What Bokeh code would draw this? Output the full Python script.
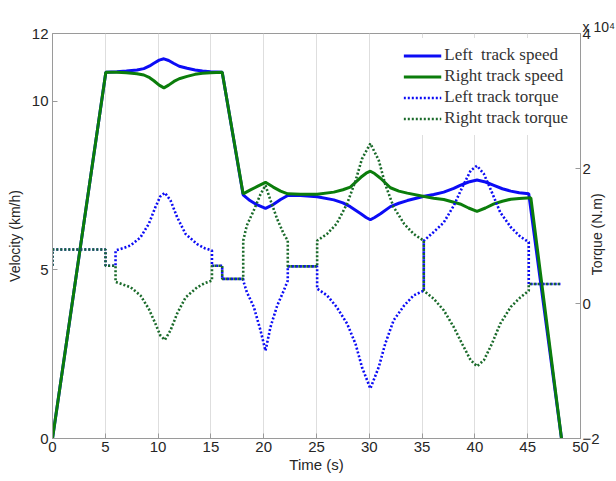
import math
from bokeh.plotting import figure
from bokeh.models import Range1d, LinearAxis, FixedTicker, Title
from bokeh.embed import file_html
from bokeh.resources import INLINE

# ---- data (time in s, velocity in km/h, torque in 1e4 N.m) ----
speed_left_t = [0, 5.05, 6.1, 7.0, 8.0, 8.65, 9.2, 9.6, 10.1, 10.55, 11.0, 11.5, 12.0, 12.75,
                13.5, 14.2, 14.96, 16.07, 18.05, 18.7, 19.4, 20.17, 20.9, 21.6, 22.28, 23.5,
                25.06, 26.64, 27.5, 28.2, 29.2, 29.7, 30.1, 30.5, 31.06, 32.0, 32.8, 33.6,
                35.2, 36.1, 37.05, 38.0, 38.6, 39.4, 40.2, 41.0, 41.8, 42.6, 43.4, 44.2, 45.1, 48.2]
speed_left_v = [0, 10.85, 10.87, 10.89, 10.92, 10.96, 11.04, 11.12, 11.21, 11.25, 11.2, 11.11, 11.03, 10.97,
                10.92, 10.89, 10.87, 10.85, 7.22, 7.05, 6.92, 6.82, 6.93, 7.08, 7.2, 7.2,
                7.16, 7.07, 6.98, 6.87, 6.66, 6.55, 6.48, 6.55, 6.66, 6.87, 6.97, 7.05,
                7.18, 7.23, 7.3, 7.41, 7.5, 7.6, 7.66, 7.6, 7.5, 7.4, 7.33, 7.28, 7.25, 0]

speed_right_t = [0, 5.05, 6.1, 7.0, 8.0, 8.65, 9.2, 9.6, 10.1, 10.55, 11.0, 11.5, 12.0, 12.75,
                 13.5, 14.2, 14.96, 16.07, 18.05, 18.7, 19.4, 20.17, 20.9, 21.6, 22.28, 23.5,
                 25.06, 26.64, 27.5, 28.2, 29.2, 29.7, 30.1, 30.5, 31.06, 32.0, 32.8, 33.6,
                 35.2, 36.1, 37.05, 38.0, 38.6, 39.4, 40.2, 41.0, 41.8, 42.6, 43.4, 44.2, 45.3, 48.2]
speed_right_v = [0, 10.85, 10.85, 10.84, 10.81, 10.77, 10.69, 10.6, 10.47, 10.39, 10.47, 10.58, 10.66, 10.73,
                 10.79, 10.82, 10.84, 10.85, 7.25, 7.36, 7.47, 7.59, 7.45, 7.33, 7.25, 7.24,
                 7.24, 7.3, 7.37, 7.45, 7.74, 7.86, 7.92, 7.85, 7.71, 7.43, 7.33, 7.27,
                 7.17, 7.12, 7.08, 7.0, 6.95, 6.83, 6.73, 6.83, 6.95, 7.03, 7.09, 7.11, 7.13, 0]

torque_t = [0, 0, 5.02, 5.02, 5.97, 5.97, 6.7, 7.39, 8.33, 9.12, 9.75, 10.2, 10.64, 11.17, 11.8,
            12.6, 13.7, 14.4, 15.1, 15.1, 16.07, 16.07, 18.06, 18.06, 18.4, 19.06, 19.7, 20.17,
            20.64, 21.28, 21.9, 22.28, 22.28, 25.06, 25.06, 26.0, 26.9, 27.9, 28.7, 29.3, 30.1,
            30.9, 31.5, 32.3, 33.3, 34.2, 35.16, 35.16, 36.1, 37.05, 38.0, 38.8, 39.6, 40.2,
            40.85, 41.6, 42.4, 43.4, 44.3, 45.1, 45.1, 48.1]
torque_left = [0.56, 0.8, 0.8, 0.56, 0.56, 0.785, 0.82, 0.86, 0.98, 1.18, 1.43, 1.585, 1.64, 1.53, 1.28,
               1.03, 0.88, 0.82, 0.785, 0.56, 0.56, 0.365, 0.365, 0.34, 0.17, -0.05, -0.40, -0.70,
               -0.35, -0.03, 0.19, 0.34, 0.55, 0.55, 0.22, 0.12, -0.05, -0.30, -0.60, -0.94, -1.26,
               -0.94, -0.60, -0.25, -0.03, 0.12, 0.19, 0.93, 1.06, 1.2, 1.45, 1.72, 1.97, 2.04,
               1.92, 1.65, 1.35, 1.13, 0.99, 0.91, 0.29, 0.29]
torque_right = [0.56, 0.8, 0.8, 0.56, 0.56, 0.32, 0.28, 0.24, 0.12, -0.08, -0.30, -0.47, -0.54, -0.40, -0.15,
                0.09, 0.24, 0.3, 0.34, 0.56, 0.56, 0.365, 0.365, 0.93, 1.156, 1.38, 1.62, 1.75,
                1.53, 1.25, 1.03, 0.93, 0.55, 0.55, 0.93, 1.03, 1.18, 1.48, 1.82, 2.14, 2.37,
                2.12, 1.77, 1.43, 1.18, 1.03, 0.93, 0.19, 0.07, -0.10, -0.35, -0.60, -0.84, -0.93,
                -0.84, -0.6, -0.30, -0.05, 0.09, 0.19, 0.29, 0.29]

x_ticks = [0, 5, 10, 15, 20, 25, 30, 35, 40, 45, 50]
vel_ticks = [0, 5, 10, 12]
torque_ticks = [-2, 0, 2, 4]

BLUE = "#0c0cf5"
GREEN = "#0b7d0b"
GREEN_DOT = "#1a6a2a"
AXIS = "#9a9a9a"
TXT = "#262626"

p = figure(width=616, height=478, output_backend="svg", toolbar_location=None,
           x_range=Range1d(0, 50), y_range=Range1d(0, 12),
           min_border_left=52, min_border_right=36, min_border_top=33, min_border_bottom=40)
p.extra_y_ranges = {"torque": Range1d(-2, 4)}
p.background_fill_color = "white"
p.border_fill_color = "white"
p.outline_line_color = AXIS

right_axis = LinearAxis(y_range_name="torque")
p.add_layout(right_axis, "right")

xaxis = p.xaxis[0]
left_axis = p.yaxis[0]
xaxis.axis_label = "Time (s)"
left_axis.axis_label = "Velocity (km/h)"
xaxis.ticker = FixedTicker(ticks=x_ticks)
left_axis.ticker = FixedTicker(ticks=vel_ticks)
right_axis.ticker = FixedTicker(ticks=torque_ticks)

for ax in (xaxis, left_axis, right_axis):
    ax.major_tick_in = 5
    ax.major_tick_out = 0
    ax.minor_tick_in = 0
    ax.minor_tick_out = 0
    ax.axis_line_color = AXIS
    ax.major_tick_line_color = AXIS
    ax.major_label_text_font = "Liberation Sans"
    ax.major_label_text_font_size = "15px"
    ax.major_label_text_color = TXT
    ax.axis_label_text_font = "Liberation Sans"
    ax.axis_label_text_font_size = "14px"
    ax.axis_label_text_font_style = "normal"
    ax.axis_label_text_color = TXT
xaxis.axis_label_text_font_size = "15px"
xaxis.major_label_standoff = 3
xaxis.axis_label_standoff = 1
left_axis.major_label_standoff = 4
left_axis.axis_label_standoff = 6
right_axis.major_label_standoff = 2

# right-hand label, reading bottom-to-top like the left one
torque_text = "Torque (N.m)"
right_axis.axis_label_standoff = -6
try:
    right_axis.axis_label_orientation = math.pi / 2
    try:
        right_axis.axis_label_align = "start"
        right_axis.axis_label = "\u00a0" * 42 + torque_text
    except Exception:
        right_axis.axis_label = torque_text
except Exception:
    right_axis.axis_label = torque_text

p.xgrid.grid_line_color = "#dedede"
p.ygrid.grid_line_color = None

p.line(speed_left_t, speed_left_v, line_color=BLUE, line_width=3, legend_label="Left  track speed")
p.line(speed_right_t, speed_right_v, line_color=GREEN, line_width=3, legend_label="Right track speed")
p.line(torque_t, torque_left, y_range_name="torque", line_color=BLUE, line_width=2.6,
       line_dash="2 2", legend_label="Left track torque")
p.line(torque_t, torque_right, y_range_name="torque", line_color=GREEN_DOT, line_width=2.6,
       line_dash="2 2", legend_label="Right track torque")

lg = p.legend[0]
lg.location = "top_right"
lg.border_line_alpha = 0
lg.background_fill_color = "white"
lg.background_fill_alpha = 1
lg.label_text_font = "Liberation Serif"
lg.label_text_font_size = "17px"
lg.label_text_color = "#333333"
lg.glyph_width = 38
lg.glyph_height = 17
lg.label_height = 17
lg.label_standoff = 3
lg.spacing = 1
lg.padding = 7
lg.margin = 5

exp_title = Title(text="x 10\u2074", align="left", offset=530, standoff=-2,
                  text_font="Liberation Sans", text_font_size="14px",
                  text_font_style="normal", text_color=TXT)
p.add_layout(exp_title, "above")

open("out.html", "w").write(file_html(p, INLINE))
